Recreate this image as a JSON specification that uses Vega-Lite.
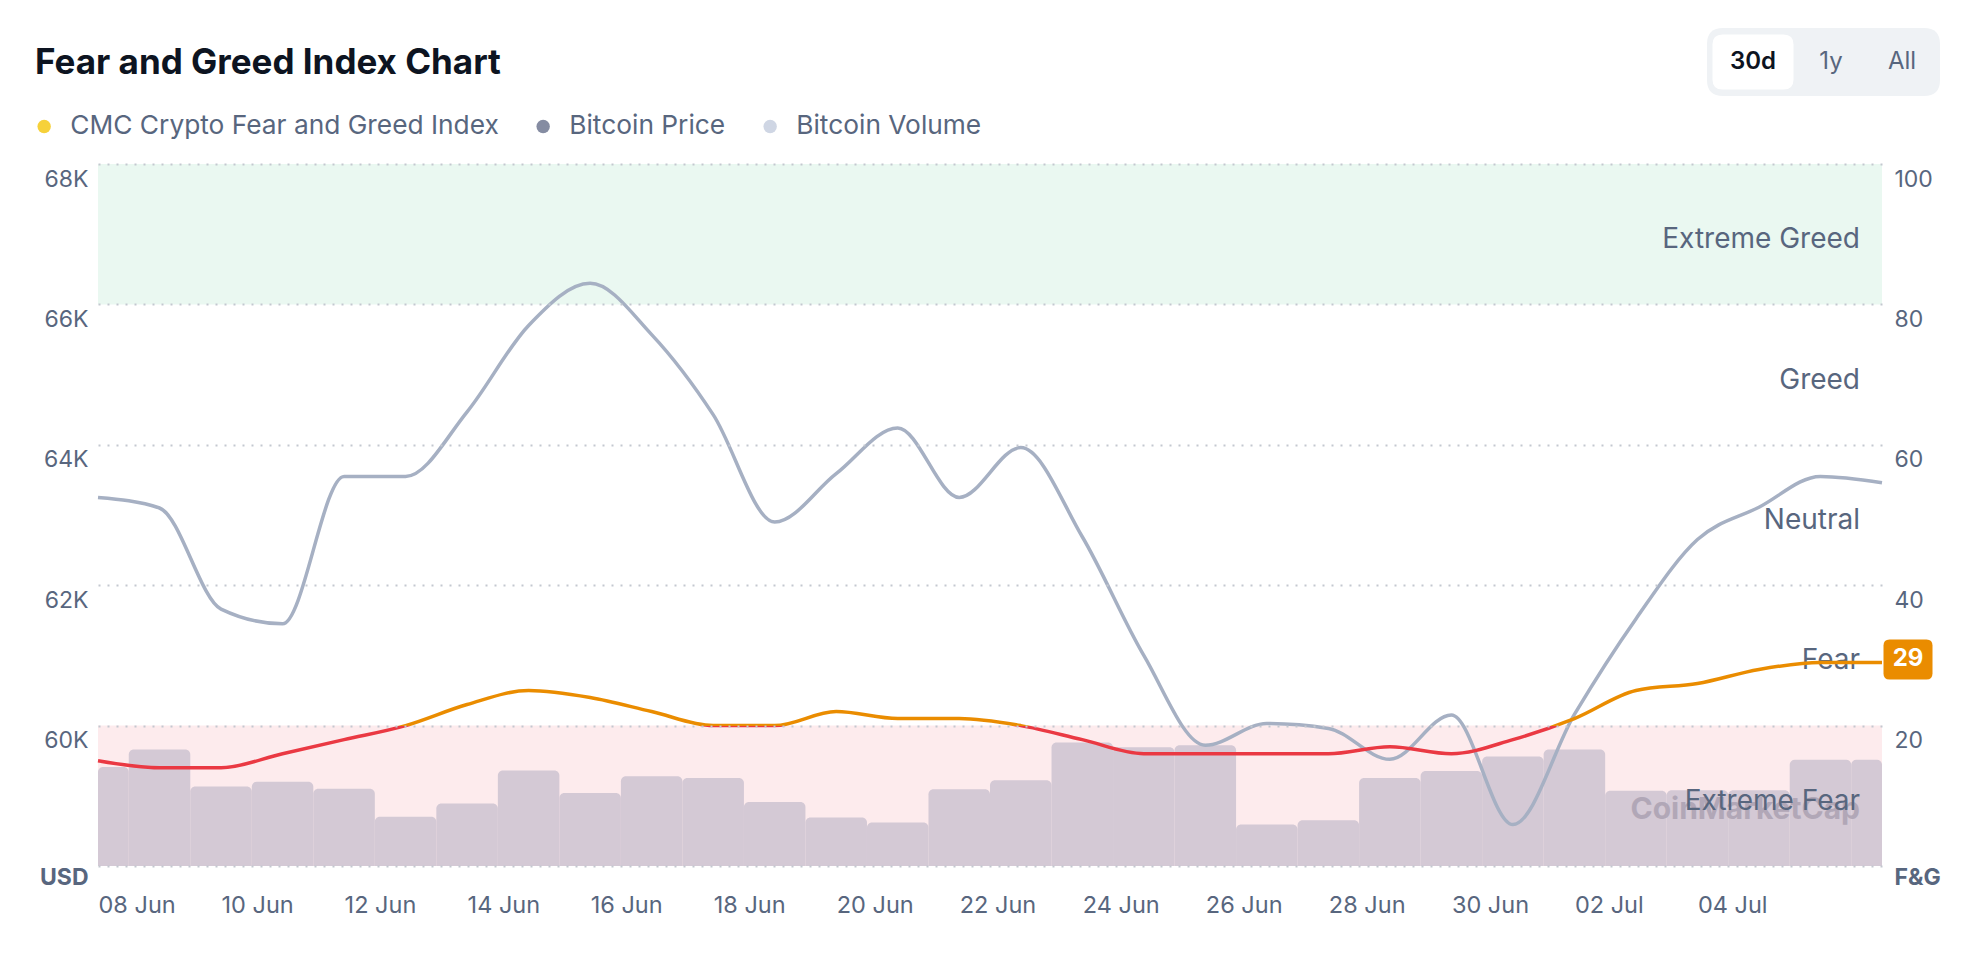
{
  "$schema": "https://vega.github.io/schema/vega-lite/v6.json",
  "width": 1784,
  "height": 702,
  "autosize": {"type": "none"},
  "padding": {"left": 98, "right": 98, "top": 164, "bottom": 100},
  "background": "#ffffff",
  "config": {
    "font": "Inter",
    "view": {"stroke": "transparent"},
    "axis": {"domain": false, "ticks": false, "labelColor": "#58667E", "labelFont": "Inter"},
    "axisX": {
      "labelExpr": "utcFormat(datum.value, '%d %b')",
      "labelAlign": "left",
      "labelBaseline": "top",
      "labelFontSize": 23.5,
      "labelPadding": 27,
      "grid": false,
      "labelOverlap": false,
      "labelFlush": false
    },
    "legend": {"labelFont": "Inter"}
  },
  "title": {
    "text": "Fear and Greed Index Chart",
    "anchor": "start",
    "frame": "group",
    "font": "Inter",
    "fontSize": 35,
    "fontWeight": "bold",
    "color": "#0D1421",
    "dx": -63,
    "offset": 0,
    "dy": 53
  },
  "data": {
    "values": [
      {"date": "2024-06-08", "fg": 15, "price": 63250, "vol": 35.3},
      {"date": "2024-06-09", "fg": 14, "price": 63100, "vol": 41.5},
      {"date": "2024-06-10", "fg": 14, "price": 61660, "vol": 28.3},
      {"date": "2024-06-11", "fg": 16, "price": 61450, "vol": 30.0},
      {"date": "2024-06-12", "fg": 18, "price": 63550, "vol": 27.5},
      {"date": "2024-06-13", "fg": 20, "price": 63550, "vol": 17.5},
      {"date": "2024-06-14", "fg": 23, "price": 64470, "vol": 22.3},
      {"date": "2024-06-15", "fg": 25, "price": 65700, "vol": 34.0},
      {"date": "2024-06-16", "fg": 24, "price": 66300, "vol": 26.0},
      {"date": "2024-06-17", "fg": 22, "price": 65570, "vol": 32.0},
      {"date": "2024-06-18", "fg": 20, "price": 64430, "vol": 31.3},
      {"date": "2024-06-19", "fg": 20, "price": 62900, "vol": 22.8},
      {"date": "2024-06-20", "fg": 22, "price": 63590, "vol": 17.3},
      {"date": "2024-06-21", "fg": 21, "price": 64240, "vol": 15.5},
      {"date": "2024-06-22", "fg": 21, "price": 63250, "vol": 27.3},
      {"date": "2024-06-23", "fg": 20, "price": 63960, "vol": 30.5},
      {"date": "2024-06-24", "fg": 18, "price": 62690, "vol": 44.0},
      {"date": "2024-06-25", "fg": 16, "price": 61000, "vol": 42.3},
      {"date": "2024-06-26", "fg": 16, "price": 59720, "vol": 43.0},
      {"date": "2024-06-27", "fg": 16, "price": 60030, "vol": 14.8},
      {"date": "2024-06-28", "fg": 16, "price": 59960, "vol": 16.3},
      {"date": "2024-06-29", "fg": 17, "price": 59520, "vol": 31.3},
      {"date": "2024-06-30", "fg": 16, "price": 60150, "vol": 33.8},
      {"date": "2024-07-01", "fg": 18, "price": 58590, "vol": 39.0},
      {"date": "2024-07-02", "fg": 21, "price": 60160, "vol": 41.5},
      {"date": "2024-07-03", "fg": 25, "price": 61520, "vol": 26.8},
      {"date": "2024-07-04", "fg": 26, "price": 62650, "vol": 27.0},
      {"date": "2024-07-05", "fg": 28, "price": 63110, "vol": 27.0},
      {"date": "2024-07-06", "fg": 29, "price": 63550, "vol": 37.8},
      {"date": "2024-07-07", "fg": 29, "price": 63460, "vol": 37.8}
    ],
    "format": {"parse": {"date": "date"}}
  },
  "layer": [
    {
      "data": {"values": [{"zone": "Extreme Greed", "lo": 80, "hi": 100}]},
      "mark": {"type": "rect", "color": "#EAF8F1"},
      "encoding": {
        "y": {"field": "lo", "type": "quantitative", "scale": {"domain": [0, 100], "nice": false}, "axis": null, "title": null},
        "y2": {"field": "hi"}
      }
    },
    {
      "data": {"values": [{"zone": "Extreme Fear", "lo": 0, "hi": 20}]},
      "mark": {"type": "rect", "color": "#FDEBED"},
      "encoding": {
        "y": {"field": "lo", "type": "quantitative", "scale": {"domain": [0, 100], "nice": false}, "axis": null, "title": null},
        "y2": {"field": "hi"}
      }
    },
    {
      "transform": [
        {"calculate": "time(datum.date) - 43200000", "as": "x0"},
        {"calculate": "time(datum.date) + 43200000", "as": "x1"}
      ],
      "mark": {"type": "rect", "color": "#D4C9D5", "cornerRadiusTopLeft": 5, "cornerRadiusTopRight": 5},
      "encoding": {
        "x": {"field": "x0", "type": "temporal", "title": null,
              "scale": {"type": "utc", "nice": false, "clamp": true, "domain": [1717804800000, 1720310400000]},
              "axis": {"values": [1717804800000, 1717977600000, 1718150400000, 1718323200000, 1718496000000, 1718668800000, 1718841600000, 1719014400000, 1719187200000, 1719360000000, 1719532800000, 1719705600000, 1719878400000, 1720051200000]}},
        "x2": {"field": "x1"},
        "y": {"field": "vol", "type": "quantitative", "scale": {"domain": [0, 250], "nice": false}, "axis": null, "title": null},
        "y2": {"datum": 0}
      }
    },
    {
      "data": {"values": [{"watermark": "CoinMarketCap"}]},
      "mark": {"type": "text", "align": "right", "baseline": "middle", "dx": -22, "fontSize": 30, "fontWeight": "bold", "color": "#ACA2B2", "opacity": 0.85},
      "encoding": {
        "x": {"value": "width"},
        "y": {"datum": 8, "type": "quantitative", "scale": {"domain": [0, 100], "nice": false}, "axis": null},
        "text": {"field": "watermark"}
      }
    },
    {
      "data": {"values": [
        {"zone": "Extreme Greed", "lo": 80, "hi": 100},
        {"zone": "Greed", "lo": 60, "hi": 80},
        {"zone": "Neutral", "lo": 40, "hi": 60},
        {"zone": "Fear", "lo": 20, "hi": 40},
        {"zone": "Extreme Fear", "lo": 0, "hi": 20}
      ]},
      "transform": [{"calculate": "(datum.lo + datum.hi) / 2", "as": "mid"}],
      "mark": {"type": "text", "align": "right", "baseline": "middle", "dx": -22, "dy": 6, "fontSize": 28, "color": "#58667E"},
      "encoding": {
        "x": {"value": "width"},
        "y": {"field": "mid", "type": "quantitative", "scale": {"domain": [0, 100], "nice": false}, "axis": null, "title": null},
        "text": {"field": "zone"}
      }
    },
    {
      "mark": {"type": "line", "interpolate": "monotone", "stroke": "#A6B0C3", "strokeWidth": 3.5},
      "encoding": {
        "x": {"field": "date", "type": "temporal", "title": null,
              "scale": {"type": "utc", "nice": false, "clamp": true, "domain": [1717804800000, 1720310400000]},
              "axis": {"values": [1717804800000, 1717977600000, 1718150400000, 1718323200000, 1718496000000, 1718668800000, 1718841600000, 1719014400000, 1719187200000, 1719360000000, 1719532800000, 1719705600000, 1719878400000, 1720051200000]}},
        "y": {"field": "price", "type": "quantitative", "title": null,
              "scale": {"domain": [58000, 68000], "nice": false, "zero": false},
              "axis": {
                "orient": "left",
                "values": [58000, 60000, 62000, 64000, 66000, 68000],
                "labelExpr": "datum.value == 58000 ? 'USD' : (datum.value / 1000) + 'K'",
                "labelFontSize": 23,
                "labelPadding": 10,
                "labelBaseline": "top",
                "labelOffset": {"condition": {"test": "datum.value == 58000", "value": 0}, "value": 4},
                "labelFontWeight": {"condition": {"test": "datum.value == 58000", "value": "bold"}, "value": "normal"},
                "grid": true,
                "gridColor": "#C3C8D0",
                "gridDash": [2, 7],
                "gridWidth": 2,
                "zindex": 1,
                "labelOverlap": false,
                "labelBound": false
              }}
      }
    },
    {
      "mark": {"type": "line", "interpolate": "monotone", "strokeWidth": 3.5,
               "stroke": {"gradient": "linear", "x1": 0, "y1": 0, "x2": 0, "y2": 1,
                          "stops": [{"offset": 0, "color": "#EA8C00"}, {"offset": 0.6, "color": "#EA8C00"}, {"offset": 0.6, "color": "#EA3943"}, {"offset": 1, "color": "#EA3943"}]}},
      "encoding": {
        "x": {"field": "date", "type": "temporal", "title": null,
              "scale": {"type": "utc", "nice": false, "clamp": true, "domain": [1717804800000, 1720310400000]},
              "axis": {"values": [1717804800000, 1717977600000, 1718150400000, 1718323200000, 1718496000000, 1718668800000, 1718841600000, 1719014400000, 1719187200000, 1719360000000, 1719532800000, 1719705600000, 1719878400000, 1720051200000]}},
        "y": {"field": "fg", "type": "quantitative", "title": null,
              "scale": {"domain": [0, 100], "nice": false},
              "axis": {
                "orient": "right",
                "values": [0, 20, 40, 60, 80, 100],
                "labelExpr": "datum.value == 0 ? 'F&G' : datum.label",
                "labelFontSize": 23,
                "labelPadding": 12,
                "labelBaseline": "top",
                "labelOffset": {"condition": {"test": "datum.value == 0", "value": 0}, "value": 4},
                "labelFontWeight": {"condition": {"test": "datum.value == 0", "value": "bold"}, "value": "normal"},
                "grid": false,
                "labelOverlap": false,
                "labelBound": false
              }}
      }
    },
    {
      "transform": [{"filter": "time(datum.date) == 1720310400000"}],
      "mark": {"type": "point", "filled": true, "opacity": 1, "color": "#EA8C00", "strokeWidth": 0, "size": 2401, "xOffset": 26, "yOffset": -3,
               "shape": "M-0.755,-0.816 L0.755,-0.816 Q1,-0.816 1,-0.571 L1,0.571 Q1,0.816 0.755,0.816 L-0.755,0.816 Q-1,0.816 -1,0.571 L-1,-0.571 Q-1,-0.816 -0.755,-0.816 Z"},
      "encoding": {
        "x": {"field": "date", "type": "temporal", "title": null,
              "scale": {"type": "utc", "nice": false, "clamp": true, "domain": [1717804800000, 1720310400000]},
              "axis": {"values": [1717804800000, 1717977600000, 1718150400000, 1718323200000, 1718496000000, 1718668800000, 1718841600000, 1719014400000, 1719187200000, 1719360000000, 1719532800000, 1719705600000, 1719878400000, 1720051200000]}},
        "y": {"field": "fg", "type": "quantitative", "scale": {"domain": [0, 100], "nice": false}, "axis": null, "title": null}
      }
    },
    {
      "transform": [{"filter": "time(datum.date) == 1720310400000"}],
      "mark": {"type": "text", "align": "center", "baseline": "middle", "dx": 26, "dy": -3, "fontSize": 24, "fontWeight": "bold", "color": "#ffffff"},
      "encoding": {
        "x": {"field": "date", "type": "temporal", "title": null,
              "scale": {"type": "utc", "nice": false, "clamp": true, "domain": [1717804800000, 1720310400000]},
              "axis": {"values": [1717804800000, 1717977600000, 1718150400000, 1718323200000, 1718496000000, 1718668800000, 1718841600000, 1719014400000, 1719187200000, 1719360000000, 1719532800000, 1719705600000, 1719878400000, 1720051200000]}},
        "y": {"field": "fg", "type": "quantitative", "scale": {"domain": [0, 100], "nice": false}, "axis": null, "title": null},
        "text": {"field": "fg", "type": "quantitative"}
      }
    },
    {
      "data": {"values": [
        {"series": "CMC Crypto Fear and Greed Index"},
        {"series": "Bitcoin Price"},
        {"series": "Bitcoin Volume"}
      ]},
      "mark": {"type": "point", "filled": true, "opacity": 0},
      "encoding": {
        "color": {"field": "series", "type": "nominal",
                  "scale": {"domain": ["CMC Crypto Fear and Greed Index", "Bitcoin Price", "Bitcoin Volume"], "range": ["#F6D13A", "#858CA2", "#CFD6E4"]},
                  "legend": {"orient": "none", "legendX": -67, "legendY": -51, "direction": "horizontal", "title": null,
                             "symbolType": "circle", "symbolSize": 180, "symbolOpacity": 1, "symbolStrokeWidth": 0,
                             "labelFontSize": 26.3, "labelColor": "#58667E", "labelOffset": 13, "columnPadding": 31, "labelLimit": 0}}
      }
    },
    {
      "data": {"values": [{"range": "band"}]},
      "mark": {"type": "point", "filled": true, "color": "#EFF2F5", "opacity": 0},
      "encoding": {
        "shape": {"field": "range", "type": "nominal",
                  "scale": {"domain": ["band"],
                            "range": ["M-0.53,-1 L5.383,-1 Q5.853,-1 5.853,-0.53 L5.853,0.53 Q5.853,1 5.383,1 L-0.53,1 Q-1,1 -1,0.53 L-1,-0.53 Q-1,-1 -0.53,-1 Z"]},
                  "legend": {"orient": "none", "legendX": 1609, "legendY": -136, "direction": "horizontal", "title": null, "zindex": 1,
                             "symbolSize": 4624, "symbolOpacity": 1, "symbolStrokeWidth": 0, "symbolFillColor": "#EFF2F5",
                             "labelExpr": "''", "padding": 0}}
      }
    },
    {
      "data": {"values": [{"r1": "1y"}]},
      "mark": {"type": "point", "opacity": 0},
      "encoding": {
        "stroke": {"field": "r1", "type": "nominal", "scale": {"domain": ["1y"], "range": ["transparent"]},
                   "legend": {"orient": "none", "legendX": 1705.5, "legendY": -129.5, "direction": "horizontal", "title": null, "zindex": 2,
                              "symbolSize": 3025, "symbolOpacity": 0, "symbolStrokeWidth": 0, "symbolFillColor": "transparent",
                              "labelFontSize": 24, "labelColor": "#58667E", "labelAlign": "center", "labelBaseline": "middle", "labelOffset": -27.5, "padding": 0}}
      }
    },
    {
      "data": {"values": [{"r2": "All"}]},
      "mark": {"type": "point", "opacity": 0},
      "encoding": {
        "strokeDash": {"field": "r2", "type": "nominal", "scale": {"domain": ["All"], "range": [[1, 0]]},
                   "legend": {"orient": "none", "legendX": 1776.5, "legendY": -129.5, "direction": "horizontal", "title": null, "zindex": 2,
                              "symbolType": "circle", "symbolSize": 3025, "symbolOpacity": 0, "symbolStrokeWidth": 0, "symbolFillColor": "transparent", "symbolStrokeColor": "transparent",
                              "labelFontSize": 24, "labelColor": "#58667E", "labelAlign": "center", "labelBaseline": "middle", "labelOffset": -27.5, "padding": 0}}
      }
    },
    {
      "data": {"values": [{"sel": "30d"}]},
      "mark": {"type": "point", "filled": true, "opacity": 0},
      "encoding": {
        "fill": {"field": "sel", "type": "nominal",
                 "scale": {"domain": ["30d"], "range": ["#ffffff"]},
                 "legend": {"orient": "none", "legendX": 1627.5, "legendY": -129.5, "direction": "horizontal", "title": null, "zindex": 2,
                            "symbolType": "M-1.109,-1 L1.109,-1 Q1.473,-1 1.473,-0.636 L1.473,0.636 Q1.473,1 1.109,1 L-1.109,1 Q-1.473,1 -1.473,0.636 L-1.473,-0.636 Q-1.473,-1 -1.109,-1 Z",
                            "symbolSize": 3025, "symbolOpacity": 1, "symbolStrokeWidth": 0,
                            "labelFontSize": 24, "labelFontWeight": 600, "labelColor": "#0D1421", "labelAlign": "center", "labelBaseline": "middle", "labelOffset": -27.5,
                            "padding": 0}}
      }
    }
  ],
  "resolve": {"scale": {"y": "independent"}}
}
